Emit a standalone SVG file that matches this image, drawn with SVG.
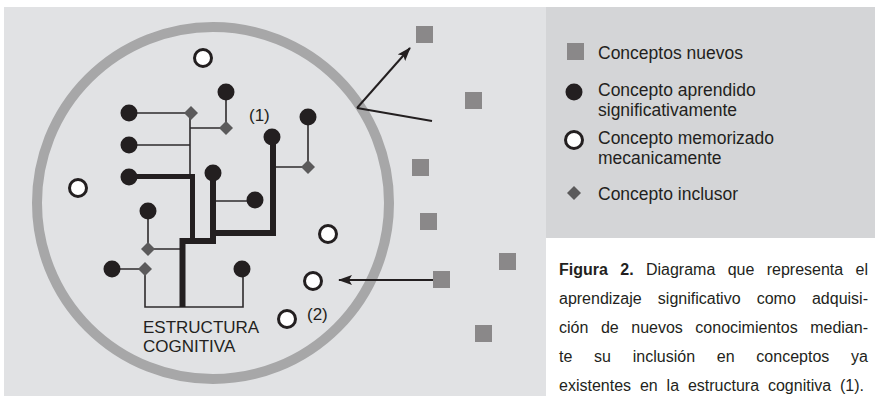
<svg xmlns="http://www.w3.org/2000/svg" width="875" height="396" viewBox="0 0 875 396">
<defs>
<style>
.txt{font-family:"Liberation Sans",Arial,sans-serif;fill:#231f20}
.thin{stroke:#2e2b2c;stroke-width:1.6;fill:none}
.thick{stroke:#231f20;stroke-width:6;fill:none;stroke-linejoin:miter}
.dot{fill:#231f20}
.open{fill:#fff;stroke:#231f20;stroke-width:3}
.dia{fill:#5b5a5b}
.sq{fill:#8a8889}
.arr{stroke:#231f20;stroke-width:2;fill:none}
</style>
<marker id="ah" markerUnits="userSpaceOnUse" markerWidth="14" markerHeight="10" refX="13" refY="5" orient="auto">
<path d="M0,0 L14,5 L0,10 L3,5 Z" fill="#231f20"/>
</marker>
<path id="diamond" d="M0,-7 L7,0 L0,7 L-7,0 Z"/>
</defs>
<rect x="0" y="0" width="875" height="396" fill="#fff"/>
<rect x="4" y="7" width="542" height="389" fill="#e1e2e4"/>
<rect x="546" y="7" width="329" height="231" fill="#d4d5d7"/>

<g id="ring"><circle cx="213" cy="203" r="176" fill="none" stroke="#a7a7a8" stroke-width="10"/></g>

<g id="connectors">
<path class="thin" d="M129,113 H191 M190,113 V176 M190,128 H226 M226,92 V128 M129,145 H190 M216,201 H255 M308,117 V167 M273,167 H308 M148,211 V249 H182 M112,269 H145 V307 H243 V269"/>
<path class="thick" style="stroke-width:5" d="M129,176.5 H192.5 V241"/>
<path class="thick" d="M213,173 V241 H182.5 V307"/>
<path class="thick" d="M213,233 H273 V137"/>
<path class="arr" d="M357,108 L410,48" marker-end="url(#ah)"/>
<path class="arr" d="M357,108 L432,121"/>
<path class="arr" d="M433,280 L339,280" marker-end="url(#ah)"/>
</g>

<g id="dots">
<circle class="dot" cx="226" cy="92" r="8.5"/>
<circle class="dot" cx="129" cy="113" r="8.5"/>
<circle class="dot" cx="129" cy="145" r="8.5"/>
<circle class="dot" cx="129" cy="177" r="8.5"/>
<circle class="dot" cx="272" cy="137" r="8.5"/>
<circle class="dot" cx="308" cy="117" r="8.5"/>
<circle class="dot" cx="213" cy="173" r="8.5"/>
<circle class="dot" cx="255" cy="200" r="8.5"/>
<circle class="dot" cx="148" cy="211" r="8.5"/>
<circle class="dot" cx="112" cy="269" r="8.5"/>
<circle class="dot" cx="242" cy="269" r="8.5"/>
</g>
<g id="diamonds">
<use href="#diamond" class="dia" x="191" y="113"/>
<use href="#diamond" class="dia" x="226" y="128"/>
<use href="#diamond" class="dia" x="308" y="167"/>
<use href="#diamond" class="dia" x="148" y="249"/>
<use href="#diamond" class="dia" x="145" y="269"/>
</g>
<g id="open-circles">
<circle class="open" cx="203" cy="58" r="8.5"/>
<circle class="open" cx="78" cy="188" r="8.5"/>
<circle class="open" cx="328" cy="234" r="8.5"/>
<circle class="open" cx="313" cy="281" r="8.5"/>
<circle class="open" cx="287" cy="319" r="8.5"/>
</g>
<g id="squares">
<rect class="sq" x="416" y="26" width="17" height="17"/>
<rect class="sq" x="465" y="92" width="17" height="17"/>
<rect class="sq" x="412" y="159" width="17" height="17"/>
<rect class="sq" x="420" y="213" width="17" height="17"/>
<rect class="sq" x="499" y="253" width="17" height="17"/>
<rect class="sq" x="433" y="271" width="17" height="17"/>
<rect class="sq" x="475" y="325" width="17" height="17"/>
</g>
<g id="labels">
<text class="txt" x="249" y="121" font-size="17">(1)</text>
<text class="txt" x="307" y="320" font-size="17">(2)</text>
<text class="txt" x="143" y="333" font-size="17">ESTRUCTURA</text>
<text class="txt" x="143" y="352" font-size="17">COGNITIVA</text>
</g>

<g id="legend">
<rect class="sq" x="567" y="43" width="17" height="17"/>
<text class="txt" x="598" y="59" font-size="17.5">Conceptos nuevos</text>
<circle class="dot" cx="574" cy="92" r="8.5"/>
<text class="txt" x="598" y="96" font-size="17.5">Concepto aprendido</text>
<text class="txt" x="598" y="115.8" font-size="17.5">significativamente</text>
<circle class="open" cx="574" cy="140" r="8.5"/>
<text class="txt" x="598" y="144" font-size="17.5">Concepto memorizado</text>
<text class="txt" x="598" y="163.8" font-size="17.5">mecanicamente</text>
<use href="#diamond" class="dia" x="574" y="193"/>
<text class="txt" x="598" y="200" font-size="17.5">Concepto inclusor</text>
</g>

<g id="caption" font-size="16">
<text class="txt" x="559" y="275" word-spacing="7.9" textLength="309" lengthAdjust="spacing"><tspan font-weight="bold">Figura 2.</tspan> Diagrama que representa el</text>
<text class="txt" x="559" y="304" word-spacing="11.7" textLength="309" lengthAdjust="spacing">aprendizaje significativo como adquisi-</text>
<text class="txt" x="559" y="333" word-spacing="8.1" textLength="309" lengthAdjust="spacing">ción de nuevos conocimientos median-</text>
<text class="txt" x="559" y="362" word-spacing="17.3" textLength="309" lengthAdjust="spacing">te su inclusión en conceptos ya</text>
<text class="txt" x="559" y="391" word-spacing="4.4" textLength="305" lengthAdjust="spacing">existentes en la estructura cognitiva (1).</text>
</g>
</svg>
